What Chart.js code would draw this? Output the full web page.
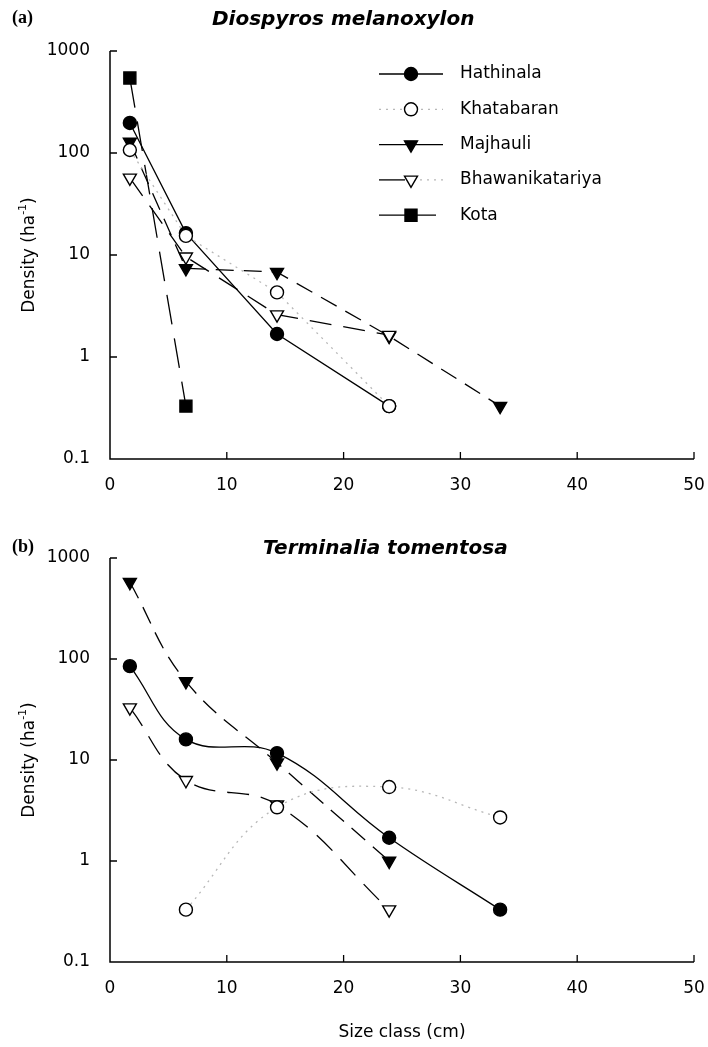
<!DOCTYPE html>
<html>
<head>
<meta charset="utf-8">
<script src="https://cdn.jsdelivr.net/npm/chart.js@4.4.1/dist/chart.umd.min.js"></script>
<style>
  html, body { margin: 0; padding: 0; background: #fff; }
  #wrap { position: relative; width: 708px; height: 1047px; }
  .box { position: absolute; left: 0; width: 708px; }
  #boxA { top: 0; height: 500px; }
  #boxB { top: 500px; height: 547px; }
</style>
</head>
<body>
<div id="wrap">
  <div class="box" id="boxA"><canvas id="chartA"></canvas></div>
  <div class="box" id="boxB"><canvas id="chartB"></canvas></div>
</div>
<script>
// size class midpoints (cm) and axis ticks
const sizeClasses = [1.7, 6.5, 14.3, 23.9, 33.4];
const xTicks = [0, 10, 20, 30, 40, 50];
const yTicks = [0.1, 1, 10, 100, 1000];

// (a) Diospyros melanoxylon, density per ha
const dmHathinala = [197, 16.4, 1.68, 0.33, null];
const dmKhatabaran = [107, 15.4, 4.3, 0.33, null];
const dmMajhauli = [128, 7.4, 6.8, 1.6, 0.33];
const dmBhawanikatariya = [57, 9.6, 2.6, 1.64, null];
const dmKota = [543, 0.33, null, null, null];

// (b) Terminalia tomentosa, density per ha
const ttHathinala = [85, 16, 11.7, 1.7, 0.33];
const ttKhatabaran = [null, 0.33, 3.4, 5.4, 2.7];
const ttMajhauli = [575, 60, 9.4, 1.0, null];
const ttBhawanikatariya = [33, 6.3, 3.6, 0.33, null];

const FONT = "'DejaVu Sans', sans-serif";

// look of each site
const siteStyle = {
  Hathinala:       { pointStyle: 'circle',   rotation: 0,   radius: 6.5, fill: '#000', line: '#000',    dash: [],      order: 2 },
  Khatabaran:      { pointStyle: 'circle',   rotation: 0,   radius: 6.5, fill: '#fff', line: '#b8b8b8', dash: [2, 5],  order: 0 },
  Majhauli:        { pointStyle: 'triangle', rotation: 180, radius: 7.5, fill: '#000', line: '#000',    dash: [18, 10], order: 3 },
  Bhawanikatariya: { pointStyle: 'triangle', rotation: 180, radius: 7.5, fill: '#fff', line: '#000',    dash: [22, 12], order: 1 },
  Kota:            { pointStyle: 'rect',     rotation: 0,   radius: 8.5, fill: '#000', line: '#000',    dash: [30, 14], order: 4 }
};

function makeDataset(name, values, tension) {
  const s = siteStyle[name];
  return {
    label: name,
    data: sizeClasses.map((x, i) => ({ x: x, y: values[i] })).filter(p => p.y !== null),
    borderColor: s.line,
    borderWidth: 1.3,
    borderDash: s.dash,
    pointStyle: s.pointStyle,
    rotation: s.rotation,
    pointRadius: s.radius,
    pointBackgroundColor: s.fill,
    pointBorderColor: '#000',
    pointBorderWidth: 1.4,
    tension: tension,
    order: s.order,
    clip: false
  };
}

// axes, inward ticks, titles and legend
const decorPlugin = {
  id: 'decor',
  afterDraw(chart, args, opts) {
    const ctx = chart.ctx;
    const area = chart.chartArea;
    const xs = chart.scales.x, ys = chart.scales.y;
    ctx.save();
    ctx.setLineDash([]);
    ctx.strokeStyle = '#000';
    ctx.lineWidth = 1.5;
    ctx.beginPath();
    ctx.moveTo(area.left, area.top);
    ctx.lineTo(area.left, area.bottom);
    ctx.lineTo(area.right, area.bottom);
    ctx.stroke();
    ctx.lineWidth = 1.3;
    ctx.beginPath();
    yTicks.slice(1).forEach(v => {
      const y = ys.getPixelForValue(v);
      ctx.moveTo(area.left, y);
      ctx.lineTo(area.left + 7, y);
    });
    xTicks.slice(1).forEach(v => {
      const x = xs.getPixelForValue(v);
      ctx.moveTo(x, area.bottom);
      ctx.lineTo(x, area.bottom - 7);
    });
    ctx.stroke();

    // panel letter and species title
    ctx.fillStyle = '#000';
    ctx.textBaseline = 'middle';
    ctx.textAlign = 'left';
    ctx.font = "bold 18px 'Liberation Serif', serif";
    ctx.fillText(opts.letter, 12, opts.titleY - 2);
    ctx.font = "italic bold 20px " + FONT;
    ctx.fillText(opts.title, opts.titleX, opts.titleY);

    // y axis title with superscript
    ctx.save();
    ctx.translate(30, (area.top + area.bottom) / 2);
    ctx.rotate(-Math.PI / 2);
    ctx.font = "17px " + FONT;
    const a = 'Density (ha', b = '-1', c = ')';
    const wa = ctx.measureText(a).width, wc = ctx.measureText(c).width;
    ctx.font = "11px " + FONT;
    const wb = ctx.measureText(b).width;
    let x0 = -(wa + wb + wc) / 2;
    ctx.font = "17px " + FONT;
    ctx.fillText(a, x0, 0);
    ctx.font = "11px " + FONT;
    ctx.fillText(b, x0 + wa, -7);
    ctx.font = "17px " + FONT;
    ctx.fillText(c, x0 + wa + wb, 0);
    ctx.restore();

    if (opts.xTitle) {
      ctx.textAlign = 'center';
      ctx.font = "17px " + FONT;
      ctx.fillText(opts.xTitle, (area.left + area.right) / 2, opts.xTitleY);
    }

    if (opts.legend) {
      opts.legend.forEach((name, i) => {
        const s = siteStyle[name];
        const y = 74 + i * 35.3;
        ctx.lineWidth = 1.3;
        ctx.strokeStyle = s.line;
        ctx.setLineDash(s.dash.length ? [2, 5] : []);
        ctx.beginPath();
        if (name === 'Bhawanikatariya') {
          ctx.setLineDash([]);
          ctx.strokeStyle = '#000';
          ctx.moveTo(379, y); ctx.lineTo(405, y);
          ctx.stroke();
          ctx.beginPath();
          ctx.strokeStyle = '#b8b8b8';
          ctx.setLineDash([2, 5]);
          ctx.moveTo(420, y); ctx.lineTo(443, y);
        } else if (name === 'Khatabaran') {
          ctx.moveTo(379, y); ctx.lineTo(443, y);
        } else {
          ctx.setLineDash([]);
          ctx.moveTo(379, y); ctx.lineTo(name === 'Kota' ? 436 : 443, y);
        }
        ctx.stroke();
        ctx.setLineDash([]);
        ctx.fillStyle = s.fill;
        ctx.strokeStyle = '#000';
        ctx.lineWidth = 1.4;
        Chart.helpers.drawPoint(ctx, { pointStyle: s.pointStyle, rotation: s.rotation, radius: s.radius, borderWidth: 1.4 }, 411, y);
        ctx.fillStyle = '#000';
        ctx.textAlign = 'left';
        ctx.font = "17px " + FONT;
        ctx.fillText(name, 460, y);
      });
    }
    ctx.restore();
  }
};

function makeOptions(padTop, xHeight, decor) {
  return {
    responsive: true,
    maintainAspectRatio: false,
    animation: false,
    layout: { padding: { top: padTop, right: 14, left: 0, bottom: 0 } },
    plugins: { legend: { display: false }, tooltip: { enabled: false }, decor: decor },
    scales: {
      x: {
        type: 'linear', min: 0, max: 50,
        afterBuildTicks: s => { s.ticks = xTicks.map(v => ({ value: v })); },
        afterFit: s => { s.height = xHeight; s.paddingLeft = 0; s.paddingRight = 0; },
        grid: { display: false, drawTicks: false },
        border: { display: false },
        ticks: { padding: 16, color: '#000', font: { family: FONT, size: 17 }, maxRotation: 0, autoSkip: false }
      },
      y: {
        type: 'logarithmic', min: 0.1, max: 1000,
        afterBuildTicks: s => { s.ticks = yTicks.map(v => ({ value: v })); },
        afterFit: s => { s.width = 110; s.paddingTop = 0; s.paddingBottom = 0; },
        grid: { display: false, drawTicks: false },
        border: { display: false },
        ticks: { padding: 20, color: '#000', font: { family: FONT, size: 17 }, autoSkip: false, callback: v => String(v) }
      }
    }
  };
}

document.addEventListener('DOMContentLoaded', () => {
  // (a) Diospyros melanoxylon
  new Chart(document.getElementById('chartA'), {
    type: 'line',
    data: {
      datasets: [
        makeDataset('Hathinala', dmHathinala, 0),
        makeDataset('Khatabaran', dmKhatabaran, 0),
        makeDataset('Majhauli', dmMajhauli, 0),
        makeDataset('Bhawanikatariya', dmBhawanikatariya, 0),
        makeDataset('Kota', dmKota, 0)
      ]
    },
    options: makeOptions(51, 41, {
      letter: '(a)', title: 'Diospyros melanoxylon', titleX: 212, titleY: 20,
      legend: ['Hathinala', 'Khatabaran', 'Majhauli', 'Bhawanikatariya', 'Kota']
    }),
    plugins: [decorPlugin]
  });

  // (b) Terminalia tomentosa
  new Chart(document.getElementById('chartB'), {
    type: 'line',
    data: {
      datasets: [
        makeDataset('Hathinala', ttHathinala, 0.4),
        makeDataset('Khatabaran', ttKhatabaran, 0.4),
        makeDataset('Majhauli', ttMajhauli, 0.4),
        makeDataset('Bhawanikatariya', ttBhawanikatariya, 0.4)
      ]
    },
    options: makeOptions(58, 85, {
      letter: '(b)', title: 'Terminalia tomentosa', titleX: 263, titleY: 49,
      xTitle: 'Size class (cm)', xTitleY: 533
    }),
    plugins: [decorPlugin]
  });
});
</script>
</body>
</html>
